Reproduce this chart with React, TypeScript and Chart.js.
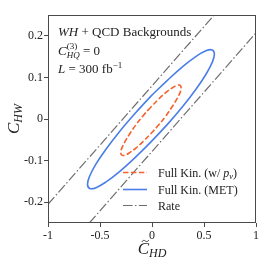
import React, { useEffect, useRef } from 'react';
import { Chart, registerables } from 'chart.js';
Chart.register(...registerables);

const FONT = "'Liberation Serif', 'DejaVu Serif', serif";

const X_TICKS = [-1, -0.5, 0, 0.5, 1];
const X_TICK_LABELS = ['-1', '-0.5', '0', '0.5', '1'];
const Y_TICKS = [-0.2, -0.1, 0, 0.1, 0.2];
const Y_TICK_LABELS = ['-0.2', '-0.1', '0', '0.1', '0.2'];

// Full Kin. (MET) contour
const BLUE_X = [-0.010, -0.168, -0.315, -0.441, -0.538, -0.599, -0.620, -0.599, -0.538, -0.441, -0.315, -0.168, -0.010, 0.148, 0.295, 0.421, 0.518, 0.579, 0.600, 0.579, 0.518, 0.421, 0.295, 0.148, -0.010];
const BLUE_Y = [0.055, 0.012, -0.031, -0.072, -0.108, -0.137, -0.157, -0.167, -0.165, -0.151, -0.127, -0.094, -0.055, -0.013, 0.030, 0.071, 0.107, 0.136, 0.156, 0.166, 0.164, 0.150, 0.126, 0.093, 0.055];

// Full Kin. (w/ p_nu) contour
const ORANGE_X = [-0.010, -0.085, -0.155, -0.215, -0.261, -0.290, -0.300, -0.290, -0.261, -0.215, -0.155, -0.085, -0.010, 0.065, 0.135, 0.195, 0.241, 0.270, 0.280, 0.270, 0.241, 0.195, 0.135, 0.065, -0.010];
const ORANGE_Y = [0.029, 0.008, -0.014, -0.036, -0.055, -0.070, -0.081, -0.087, -0.087, -0.081, -0.070, -0.054, -0.035, -0.014, 0.008, 0.030, 0.049, 0.064, 0.075, 0.081, 0.081, 0.075, 0.064, 0.048, 0.029];

// Rate bands
const RATE_UPPER_X = [-1, 0.598];
const RATE_UPPER_Y = [-0.205, 0.25];
const RATE_LOWER_X = [-0.603, 1];
const RATE_LOWER_Y = [-0.25, 0.207];

const ORANGE = '#f4622e';
const BLUE = '#4a7ee8';
const GRAY = '#6e6e6e';
const TEXT = '#222222';

const zip = (xs: number[], ys: number[]) => xs.map((x, i) => ({ x, y: ys[i] }));

type Seg = { t: string; it?: boolean; s: number; dy?: number; stack?: { t: string; it?: boolean; s: number; dy?: number } };

function setFont(ctx: CanvasRenderingContext2D, s: number, it?: boolean) {
  ctx.font = `${it ? 'italic ' : ''}${s}px ${FONT}`;
}

function drawRich(ctx: CanvasRenderingContext2D, x: number, y: number, segs: Seg[], align: 'left' | 'center' = 'left') {
  const widths = segs.map((g) => {
    setFont(ctx, g.s, g.it);
    let w = ctx.measureText(g.t).width;
    if (g.stack) {
      setFont(ctx, g.stack.s, g.stack.it);
      w = Math.max(w, ctx.measureText(g.stack.t).width);
    }
    return w;
  });
  const total = widths.reduce((a, b) => a + b, 0);
  let cx = align === 'center' ? x - total / 2 : x;
  ctx.textAlign = 'left';
  ctx.textBaseline = 'alphabetic';
  segs.forEach((g, i) => {
    setFont(ctx, g.s, g.it);
    ctx.fillText(g.t, cx, y + (g.dy || 0));
    if (g.stack) {
      setFont(ctx, g.stack.s, g.stack.it);
      ctx.fillText(g.stack.t, cx, y + (g.stack.dy || 0));
    }
    cx += widths[i];
  });
  return align === 'center' ? x - total / 2 : x;
}

const decorPlugin = {
  id: 'decor',
  afterDraw(chart: any) {
    const ctx: CanvasRenderingContext2D = chart.ctx;
    const a = chart.chartArea;
    ctx.save();
    // frame
    ctx.strokeStyle = '#4a4a4a';
    ctx.lineWidth = 1;
    ctx.setLineDash([]);
    ctx.strokeRect(Math.round(a.left) + 0.5, Math.round(a.top) + 0.5, Math.round(a.right - a.left) - 1, Math.round(a.bottom - a.top) - 1);

    ctx.fillStyle = TEXT;
    // annotation
    const ax = a.left + 10;
    drawRich(ctx, ax, 36, [
      { t: 'WH', it: true, s: 13 },
      { t: ' + QCD Backgrounds', s: 13 },
    ]);
    drawRich(ctx, ax, 55, [
      { t: 'C', it: true, s: 13 },
      { t: 'HQ', it: true, s: 9, dy: 3, stack: { t: '(3)', s: 9, dy: -6 } },
      { t: ' = 0', s: 13 },
    ]);
    drawRich(ctx, ax, 73, [
      { t: 'L', it: true, s: 13 },
      { t: ' = 300 fb', s: 13 },
      { t: '\u22121', s: 9, dy: -5 },
    ]);

    // legend
    const lx0 = 123, lx1 = 147, tx = 158;
    const rows = [
      { y: 172.5, color: ORANGE, dash: [5.5, 2.4], w: 1.6 },
      { y: 189.5, color: BLUE, dash: [], w: 1.6 },
      { y: 205.5, color: GRAY, dash: [9.6, 2.4, 1.5, 2.4], w: 1.2 },
    ];
    rows.forEach((r) => {
      ctx.beginPath();
      ctx.strokeStyle = r.color;
      ctx.lineWidth = r.w;
      ctx.setLineDash(r.dash);
      ctx.moveTo(lx0, r.y);
      ctx.lineTo(lx1, r.y);
      ctx.stroke();
    });
    ctx.setLineDash([]);
    ctx.fillStyle = TEXT;
    drawRich(ctx, tx, 176.5, [
      { t: 'Full Kin. (w/ ', s: 12 },
      { t: 'p', it: true, s: 12 },
      { t: '\u03bd', it: true, s: 8.5, dy: 2.5 },
      { t: ')', s: 12 },
    ]);
    drawRich(ctx, tx, 193.5, [{ t: 'Full Kin. (MET)', s: 12 }]);
    drawRich(ctx, tx, 209.5, [{ t: 'Rate', s: 12 }]);

    // x title
    const xc = (a.left + a.right) / 2;
    const cStart = drawRich(ctx, xc, 254, [
      { t: 'C', it: true, s: 17 },
      { t: 'HD', it: true, s: 12, dy: 3 },
    ], 'center');
    setFont(ctx, 17, true);
    const cw = ctx.measureText('C').width;
    // tilde accent over C
    const tcx = cStart + cw / 2 + 2;
    const ty = 241;
    ctx.beginPath();
    ctx.strokeStyle = TEXT;
    ctx.lineWidth = 0.9;
    ctx.moveTo(tcx - 3.5, ty + 1);
    ctx.bezierCurveTo(tcx - 2, ty - 1.5, tcx - 0.5, ty - 0.5, tcx, ty);
    ctx.bezierCurveTo(tcx + 0.5, ty + 0.5, tcx + 2, ty + 1.5, tcx + 3.5, ty - 1);
    ctx.stroke();

    // y title
    ctx.save();
    ctx.translate(19, (a.top + a.bottom) / 2);
    ctx.rotate(-Math.PI / 2);
    drawRich(ctx, 0, 0, [
      { t: 'C', it: true, s: 17 },
      { t: 'HW', it: true, s: 12, dy: 3 },
    ], 'center');
    ctx.restore();

    ctx.restore();
  },
};

export default function App() {
  const ref = useRef<HTMLCanvasElement>(null);
  useEffect(() => {
    const tickFont = { family: FONT, size: 12 };
    const chart = new Chart(ref.current!, {
      type: 'scatter',
      data: {
        datasets: [
          { label: 'Rate', data: zip(RATE_UPPER_X, RATE_UPPER_Y), showLine: true, borderColor: GRAY, borderWidth: 1.2, borderDash: [9.6, 2.4, 1.5, 2.4], pointRadius: 0, fill: false },
          { label: 'Rate lower', data: zip(RATE_LOWER_X, RATE_LOWER_Y), showLine: true, borderColor: GRAY, borderWidth: 1.2, borderDash: [9.6, 2.4, 1.5, 2.4], pointRadius: 0, fill: false },
          { label: 'Full Kin. (MET)', data: zip(BLUE_X, BLUE_Y), showLine: true, borderColor: BLUE, borderWidth: 1.6, pointRadius: 0, tension: 0.4, fill: false },
          { label: 'Full Kin. (w/ p_nu)', data: zip(ORANGE_X, ORANGE_Y), showLine: true, borderColor: ORANGE, borderWidth: 1.6, borderDash: [5.5, 2.4], pointRadius: 0, tension: 0.4, fill: false },
        ] as any,
      },
      options: {
        animation: false,
        responsive: false,
        layout: { padding: { left: 0, top: 15, right: 10, bottom: 0 } },
        plugins: { legend: { display: false }, tooltip: { enabled: false } },
        scales: {
          x: {
            type: 'linear',
            min: -1,
            max: 1,
            afterBuildTicks: (s: any) => { s.ticks = X_TICKS.map((v) => ({ value: v })); },
            afterFit: (s: any) => { s.height = 43; },
            grid: { display: true, drawOnChartArea: false, drawTicks: true, tickLength: 4, tickColor: '#4a4a4a' },
            border: { display: false },
            ticks: {
              font: tickFont,
              color: TEXT,
              padding: 2,
              maxRotation: 0,
              autoSkip: false,
              callback: (v: any) => X_TICK_LABELS[X_TICKS.indexOf(Number(v))] ?? '',
            },
          },
          y: {
            type: 'linear',
            min: -0.25,
            max: 0.25,
            afterBuildTicks: (s: any) => { s.ticks = Y_TICKS.map((v) => ({ value: v })); },
            afterFit: (s: any) => { s.width = 48; },
            grid: { display: true, drawOnChartArea: false, drawTicks: true, tickLength: 4, tickColor: '#4a4a4a' },
            border: { display: false },
            ticks: {
              font: tickFont,
              color: TEXT,
              padding: 1,
              autoSkip: false,
              callback: (v: any) => Y_TICK_LABELS[Y_TICKS.findIndex((t) => Math.abs(t - Number(v)) < 1e-9)] ?? '',
            },
          },
        },
      } as any,
      plugins: [decorPlugin],
    });
    return () => chart.destroy();
  }, []);
  return (
    <div style={{ position: 'absolute', left: 0, top: 0, width: 266, height: 266, background: '#fff' }}>
      <canvas ref={ref} width={266} height={266} style={{ display: 'block' }} />
    </div>
  );
}
